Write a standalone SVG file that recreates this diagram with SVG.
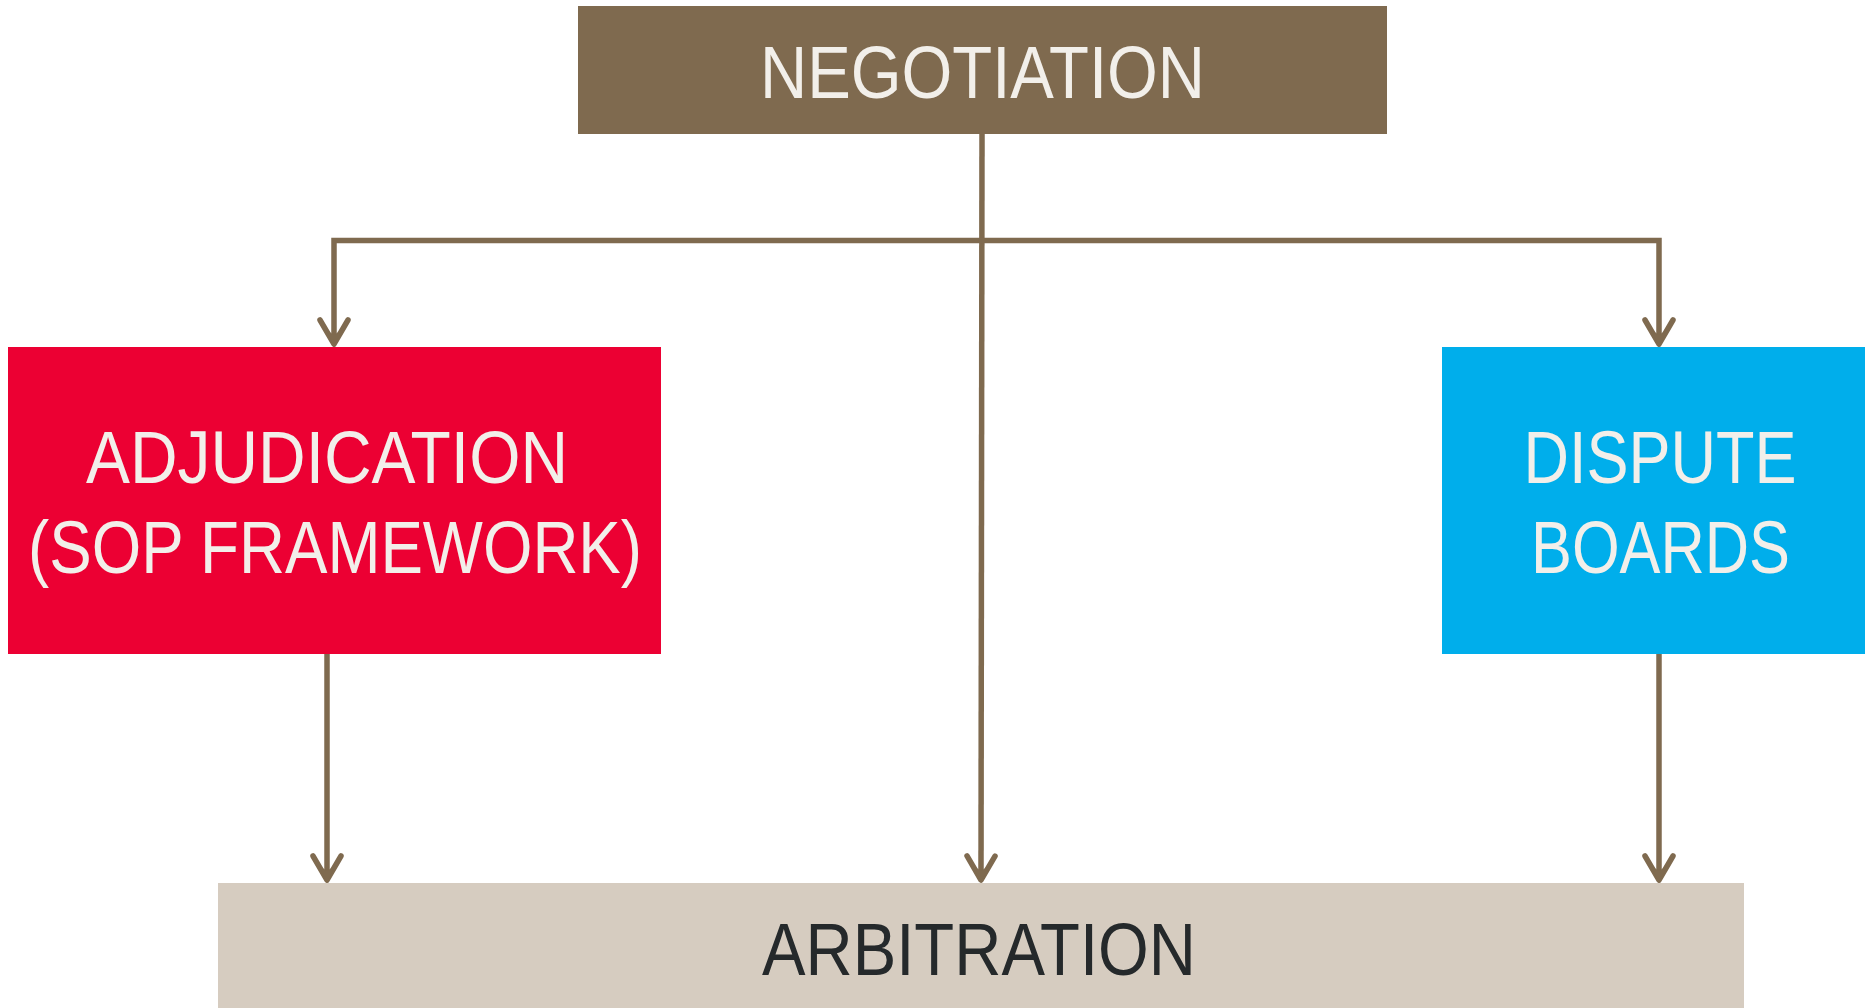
<svg xmlns="http://www.w3.org/2000/svg" width="1865" height="1008" viewBox="0 0 1865 1008">
<style>
.lbl{font-family:"Liberation Sans",Arial,sans-serif;font-size:74px;text-anchor:middle}
.light{fill:#F2EFEA}
.dark{fill:#25292B}
.conn{fill:none;stroke:#7F6A4F;stroke-width:5.5;stroke-linejoin:miter}
</style>
<defs>
<marker id="arr" markerUnits="userSpaceOnUse" orient="auto" viewBox="-32 -18 36 36" markerWidth="36" markerHeight="36" refX="-8" refY="0">
<path d="M-27,-14 L-3,0 L-27,14" fill="none" stroke="#7F6A4F" stroke-width="5.5" stroke-linecap="round" stroke-linejoin="round"/>
<path d="M0,0 L-17,-7.5 L-12,0 L-17,7.5 Z" fill="#7F6A4F"/>
</marker>
</defs>
<rect width="1865" height="1008" fill="#FFFFFF"/>
<g id="connectors">
<path class="conn" d="M982,134 L981,875" marker-end="url(#arr)"/>
<path class="conn" d="M982,240.5 H334 V339" marker-end="url(#arr)"/>
<path class="conn" d="M982,240.5 H1659 V339" marker-end="url(#arr)"/>
<path class="conn" d="M327,654 V875" marker-end="url(#arr)"/>
<path class="conn" d="M1659,654 V875" marker-end="url(#arr)"/>
</g>
<g id="negotiation">
<rect x="578" y="6" width="809" height="128" fill="#7F6A4F"/>
<text class="lbl light" x="982.5" y="98" textLength="445" lengthAdjust="spacingAndGlyphs">NEGOTIATION</text>
</g>
<g id="adjudication">
<rect x="8" y="347" width="653" height="307" fill="#EC0033"/>
<text class="lbl light" x="327" y="483" textLength="482" lengthAdjust="spacingAndGlyphs">ADJUDICATION</text>
<text class="lbl light" x="335" y="573" textLength="614" lengthAdjust="spacingAndGlyphs">(SOP FRAMEWORK)</text>
</g>
<g id="dispute-boards">
<rect x="1442" y="347" width="423" height="307" fill="#00AEEB"/>
<text class="lbl light" x="1660" y="483" textLength="273" lengthAdjust="spacingAndGlyphs">DISPUTE</text>
<text class="lbl light" x="1660.5" y="573" textLength="259" lengthAdjust="spacingAndGlyphs">BOARDS</text>
</g>
<g id="arbitration">
<rect x="218" y="883" width="1526" height="125" fill="#D6CCC0"/>
<text class="lbl dark" x="979" y="975" textLength="434" lengthAdjust="spacingAndGlyphs">ARBITRATION</text>
</g>
</svg>
